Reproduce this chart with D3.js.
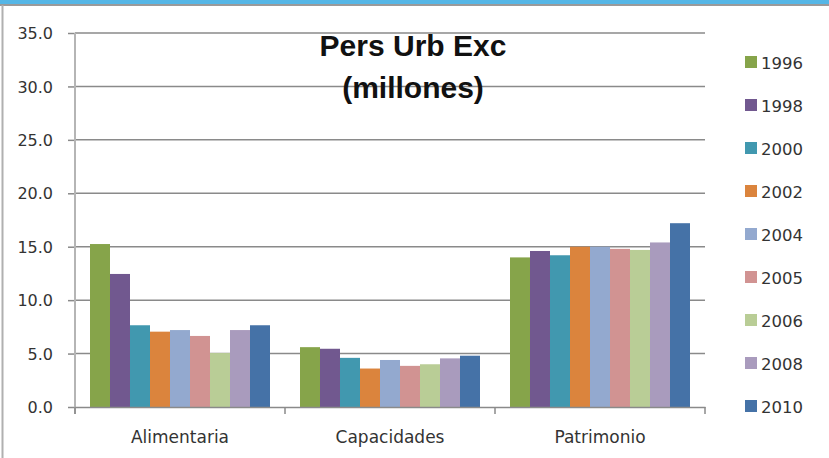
<!DOCTYPE html>
<meta charset="utf-8">
<title>Pers Urb Exc</title>
<script src="https://d3js.org/d3.v7.min.js"></script>
<style>
body { margin: 0; background: #fff; }
text { font-family: "DejaVu Sans", sans-serif; fill: #222; }
</style>
<body>
<div id="chart"></div>
<script>
// data (millions)
var categories = ["Alimentaria", "Capacidades", "Patrimonio"];
var years = ["1996", "1998", "2000", "2002", "2004", "2005", "2006", "2008", "2010"];
var alimentaria = [15.25, 12.45, 7.65, 7.05, 7.2, 6.65, 5.05, 7.2, 7.65];
var capacidades = [5.6, 5.45, 4.6, 3.6, 4.4, 3.85, 4.0, 4.55, 4.8];
var patrimonio = [14.0, 14.6, 14.2, 15.0, 15.0, 14.8, 14.7, 15.4, 17.2];
var yTicks = [0, 5, 10, 15, 20, 25, 30, 35];
var colors = ["#86a44a", "#71588f", "#4198af", "#db843d", "#93a9cf", "#d19392", "#b9cd96", "#a99bbd", "#4572a7"];

var series = [alimentaria, capacidades, patrimonio];

var W = 829, H = 458;
var margin = {top: 33, left: 75, right: 124, bottom: 51};
var width = W - margin.left - margin.right,
    height = H - margin.top - margin.bottom;

var svg = d3.select("#chart").append("svg")
  .attr("width", W).attr("height", H);

// frame: blue band on top, grey edges
svg.append("rect").attr("x", 0).attr("y", 0).attr("width", W).attr("height", 4).attr("fill", "#55b6e6");
svg.append("line").attr("x1", 0).attr("x2", W).attr("y1", 5).attr("y2", 5).attr("stroke", "#9a9a9a").attr("stroke-width", 2);
svg.append("line").attr("x1", 2.5).attr("x2", 2.5).attr("y1", 5).attr("y2", H).attr("stroke", "#b0b0b0").attr("stroke-width", 2);

var g = svg.append("g").attr("transform", "translate(" + margin.left + "," + margin.top + ")");

var y = d3.scaleLinear().domain([0, 35]).range([height, 0]);
var x0 = d3.scaleBand().domain(categories).range([0, width]).paddingInner(0).paddingOuter(0);
var x1 = d3.scaleBand().domain(years).range([15, x0.bandwidth() - 15]).padding(0);

// gridlines + y axis
var yAxis = g.append("g")
  .call(d3.axisLeft(y).tickValues(yTicks).tickSize(7).tickFormat(d3.format(".1f")));
yAxis.select(".domain").remove();
yAxis.selectAll(".tick line").attr("stroke", "#8a8a8a").attr("stroke-width", 1.5);
yAxis.selectAll(".tick text").attr("x", -22).attr("dy", "0.35em")
  .style("font-size", "16px").style("fill", "#333");

g.append("g").selectAll("line").data(yTicks.filter(function (d) { return d > 0; }))
  .join("line")
    .attr("x1", 0).attr("x2", width)
    .attr("y1", function (d) { return y(d); }).attr("y2", function (d) { return y(d); })
    .attr("stroke", "#8a8a8a").attr("stroke-width", 1.5);

// bars
var groups = g.append("g").selectAll("g").data(categories).join("g")
  .attr("transform", function (d) { return "translate(" + x0(d) + ",0)"; });
groups.selectAll("rect")
  .data(function (d, i) { return series[i].map(function (v, j) { return {year: years[j], value: v, c: colors[j]}; }); })
  .join("rect")
    .attr("x", function (d) { return x1(d.year); })
    .attr("width", x1.bandwidth())
    .attr("y", function (d) { return y(d.value); })
    .attr("height", function (d) { return height - y(d.value); })
    .attr("fill", function (d) { return d.c; });

// y axis line
g.append("line").attr("x1", 0).attr("x2", 0).attr("y1", 0).attr("y2", height + 7)
  .attr("stroke", "#b5b5b5").attr("stroke-width", 2);

// x axis
var xAxis = g.append("g").attr("transform", "translate(0," + height + ")")
  .call(d3.axisBottom(x0).tickSize(0).tickPadding(0));
xAxis.select(".domain").attr("stroke", "#8a8a8a").attr("stroke-width", 1.5);
xAxis.selectAll(".tick text").attr("y", 36).attr("dy", 0)
  .style("font-size", "17px").style("fill", "#333");
g.append("g").selectAll("line").data(d3.range(categories.length + 1))
  .join("line")
    .attr("x1", function (i) { return i * x0.bandwidth(); })
    .attr("x2", function (i) { return i * x0.bandwidth(); })
    .attr("y1", height).attr("y2", height + 7)
    .attr("stroke", "#8a8a8a").attr("stroke-width", 1.5);

// title
var title = svg.append("text").attr("x", 413).attr("y", 55)
  .attr("text-anchor", "middle")
  .style("font-family", "'Liberation Sans', Arial, sans-serif")
  .style("font-weight", "bold").style("font-size", "30px").style("fill", "#111");
title.append("tspan").attr("x", 413).attr("y", 56).text("Pers Urb Exc");
title.append("tspan").attr("x", 413).attr("y", 98).text("(millones)");

// legend
var legend = svg.append("g").selectAll("g").data(years).join("g")
  .attr("transform", function (d, i) { return "translate(745," + (62 + i * 43) + ")"; });
legend.append("rect").attr("x", 0).attr("y", -6).attr("width", 12).attr("height", 12)
  .attr("fill", function (d, i) { return colors[i]; });
legend.append("text").attr("x", 16).attr("y", 7)
  .style("font-size", "16.5px").style("fill", "#333")
  .text(function (d) { return d; });
</script>
</body>
